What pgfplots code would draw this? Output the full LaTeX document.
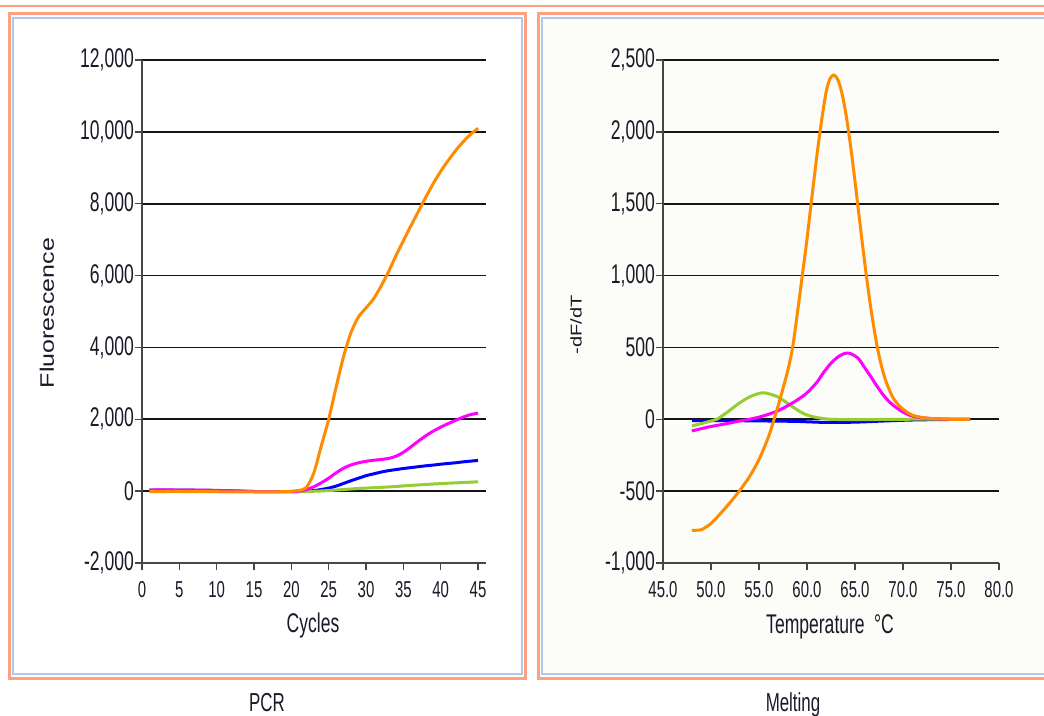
\documentclass[border=0pt]{standalone}
\usepackage{graphicx}
\usepackage{fontspec}
\setmainfont{Liberation Sans}[FakeStretch=0.65]
\newfontfamily\rotfont{Liberation Sans}
\usepackage{pgfplots}
\pgfplotsset{compat=1.18}
\definecolor{salmon}{RGB}{255,160,128}
\definecolor{panelblue}{RGB}{178,200,232}
\definecolor{offwhite}{RGB}{252,252,248}
\definecolor{txt}{RGB}{25,25,40}
\definecolor{cOrange}{RGB}{255,140,0}
\definecolor{cMagenta}{RGB}{255,0,255}
\definecolor{cBlue}{RGB}{0,0,255}
\definecolor{cGreen}{RGB}{150,205,50}
\definecolor{gridc}{RGB}{20,20,20}
\definecolor{axc}{RGB}{70,70,70}

\pgfplotsset{
  panel/.style={
    scale only axis, height=503pt,
    axis x line*=bottom, axis y line*=left,
    axis line style={axc, line width=1.6pt},
    ymajorgrids, grid style={gridc, line width=1.8pt},
    tick align=outside, major tick length=7pt,
    tick style={axc, line width=1.4pt},
    scaled ticks=false,
    /pgf/number format/assume math mode=true,
    /pgf/number format/1000 sep={,},
    yticklabel style={font=\fontsize{27}{30}\selectfont, text=txt, inner sep=1pt},
    xticklabel style={font=\fontsize{23}{26}\selectfont, text=txt, inner sep=1pt, yshift=-10pt},
    every axis plot/.append style={line width=3pt, no markers, smooth},
    clip=false,
  }
}

\begin{document}
\begin{tikzpicture}
\path[use as bounding box] (0pt,0pt) rectangle (1044pt,715pt);
% frames
\draw[salmon, line width=2pt] (0pt,709pt) -- (1044pt,709pt);
\fill[white] (11pt,39pt) rectangle (523pt,699pt);
\fill[offwhite] (540pt,39pt) rectangle (1050pt,699pt);
\draw[salmon, line width=3pt] (9.5pt,37pt) rectangle (525pt,701pt);
\draw[panelblue, line width=2pt] (13pt,41pt) rectangle (521.5pt,697pt);
\draw[salmon, line width=3pt] (538.5pt,37pt) rectangle (1052pt,701pt);
\draw[panelblue, line width=2pt] (542pt,41pt) rectangle (1048pt,697pt);

% ---------------- PCR ----------------
\begin{axis}[panel, at={(142pt,152pt)}, anchor=south west,
  width=344pt, xmin=0, xmax=46.07, ymin=-2000, ymax=12000,
  xtick={0,5,...,45}, ytick={-2000,0,...,12000}]
\addplot[cBlue] coordinates {(1,25)(3,30)(5,30)(7,25)(9,20)(11,10)(13,0)(15,-10)(17,-15)(19,-15)(21,-10)(22,0)(23,15)(24,45)(25,85)(26,140)(27,215)(28,290)(29,360)(30,430)(31,480)(32,530)(33,570)(34,600)(35,630)(36,655)(37,680)(38,705)(39,725)(40,750)(41,770)(42,790)(43,815)(44,835)(45,855)};
\addplot[cGreen] coordinates {(20,-20)(22,-10)(24,5)(26,30)(28,60)(30,85)(32,105)(34,130)(36,160)(38,185)(40,210)(42,230)(44,250)(45,260)};
\addplot[cMagenta] coordinates {(1,30)(3,35)(5,30)(7,30)(9,25)(11,15)(13,5)(15,-10)(17,-15)(19,-15)(20,-10)(21,0)(22,40)(23,120)(24,230)(25,360)(26,510)(27,640)(28,730)(29,790)(30,830)(31,860)(32,880)(33,910)(34,970)(35,1080)(36,1230)(37,1390)(38,1540)(39,1670)(40,1780)(41,1880)(42,1970)(43,2060)(44,2130)(45,2170)};
\addplot[cOrange] coordinates {(1,-10)(3,-10)(5,-10)(7,-12)(9,-15)(11,-18)(13,-20)(15,-20)(17,-20)(19,-15)(20,-5)(21,20)(22,100)(23,500)(24,1250)(25,2000)(26,2900)(27,3750)(28,4420)(29,4850)(30,5100)(31,5350)(32,5700)(33,6100)(34,6550)(35,6970)(36,7380)(37,7780)(38,8180)(39,8560)(40,8900)(41,9200)(42,9480)(43,9720)(44,9930)(45,10100)};
\end{axis}

% ---------------- Melting ----------------
\begin{axis}[panel, at={(663pt,152pt)}, anchor=south west,
  width=336pt, xmin=45, xmax=80, ymin=-1000, ymax=2500,
  xtick={45,50,...,80}, ytick={-1000,-500,...,2500},
  xticklabel={\pgfmathprintnumber[fixed,fixed zerofill,precision=1]{\tick}}]
\addplot[cBlue] coordinates {(48,-10)(50,-10)(53,-10)(56,-12)(59,-15)(62,-22)(65,-20)(68,-12)(71,-5)(74,-2)(77,0)};
\addplot[cGreen] coordinates {(48,-46)(49,-30)(50,-12)(50.6,0)(51.5,40)(52.3,80)(53,115)(54,155)(55,180)(55.5,184)(56,178)(57,155)(58,110)(58.9,69)(59.7,38)(60.6,18)(61.5,7)(62.5,0)(65,-3)(70,0)(77,2)};
\addplot[cMagenta] coordinates {(48,-81)(49,-65)(50,-50)(51,-38)(52,-25)(53,-12)(54,0)(55,15)(56,35)(57,60)(58,95)(59,135)(60,184)(61,255)(61.7,323)(62.5,390)(63.4,442)(64.3,461)(65.3,426)(66,360)(66.5,311)(67.2,240)(67.9,173)(68.6,120)(69.3,81)(70,50)(70.7,28)(71.5,15)(73,5)(75,0)(77,0)};
\addplot[cOrange] coordinates {(48,-772)(49,-768)(50,-725)(51,-655)(52,-578)(53,-495)(54,-400)(55,-280)(56,-120)(56.5,-15)(57,95)(57.5,215)(58,340)(58.5,500)(59,740)(59.5,995)(60,1255)(60.5,1540)(61,1820)(61.5,2070)(62,2280)(62.4,2370)(62.8,2395)(63.2,2365)(63.6,2280)(64,2146)(64.4,1970)(64.8,1765)(65.3,1486)(65.8,1204)(66.2,991)(66.7,750)(67.3,510)(67.8,360)(68.3,250)(69,145)(69.7,88)(70.5,45)(71,28)(72,12)(73,5)(75,0)(77,0)};
\end{axis}

% axis labels
\node[text=txt, rotate=90, inner sep=0] at (47pt,402pt) {\rotfont\fontsize{25}{28}\selectfont\scalebox{1}[0.78]{Fluorescence}};
\node[text=txt, rotate=90, inner sep=0] at (576pt,390pt) {\rotfont\fontsize{20}{24}\selectfont\scalebox{1}[0.78]{-dF/dT}};
\node[text=txt, inner sep=0] at (313pt,89pt) {\fontsize{27}{30}\selectfont Cycles};
\node[text=txt, inner sep=0] at (830pt,88pt) {\fontsize{27}{30}\selectfont Temperature \,°C};
\node[text=txt, inner sep=0, anchor=base] at (267pt,4pt) {\fontsize{26}{30}\selectfont PCR};
\node[text=txt, inner sep=0, anchor=base] at (793pt,4pt) {\fontsize{26}{30}\selectfont Melting};
\end{tikzpicture}
\end{document}
